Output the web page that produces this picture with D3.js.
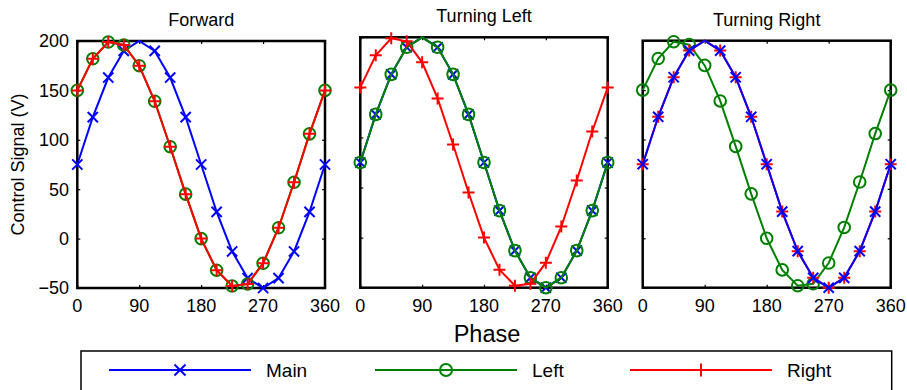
<!DOCTYPE html>
<html>
<head>
<meta charset="utf-8">
<script src="https://cdn.jsdelivr.net/npm/d3@7/dist/d3.min.js"></script>
<style>
  body { margin: 0; background: #fff; }
  text { font-family: "Liberation Sans", Arial, Helvetica, sans-serif; fill: #000; }
</style>
</head>
<body>
<div id="chart"></div>
<script>
// Data (phase in degrees, control signal in V)
var phase = [0, 22.5, 45, 67.5, 90, 112.5, 135, 157.5, 180, 202.5, 225, 247.5, 270, 292.5, 315, 337.5, 360];
var baseWave = [75, 123, 163, 190, 200, 190, 163, 123, 75, 27, -13, -40, -50, -40, -13, 27, 75];
var leadWave = [150, 182, 199, 196, 175, 139, 93, 45, 0, -32, -48, -46, -25, 11, 57, 106, 150];

var panelTitles = ['Forward', 'Turning Left', 'Turning Right'];
var seriesNames = ['Main', 'Left', 'Right'];
var xTickLabels = [0, 90, 180, 270, 360];
var yTickLabels = [-50, 0, 50, 100, 150, 200];

// which wave each series follows in each panel
var forwardSignals = [baseWave, leadWave, leadWave];
var leftSignals = [baseWave, baseWave, leadWave];
var rightSignals = [baseWave, leadWave, baseWave];
var panelSignals = [forwardSignals, leftSignals, rightSignals];

var width = 907;
var height = 390;
var colors = ['#0000ff', '#008000', '#ff0000'];
var markers = ['x', 'o', '+'];

// box of each panel, and drawing order of series
var panels = [
  { x0: 77.3, x1: 325, top: 41, bottom: 288, order: [0, 1, 2], yLabels: true },
  { x0: 360.3, x1: 607.7, top: 37.3, bottom: 287.7, order: [0, 1, 2], yLabels: false },
  { x0: 642.7, x1: 890.7, top: 40.7, bottom: 287.7, order: [1, 2, 0], yLabels: false }
];

//Create SVG
var svg = d3.select('#chart')
  .append('svg')
  .attr('width', width)
  .attr('height', height);

function drawMarker(sel, type, color, s) {
  if (type === 'o') {
    sel.append('circle')
      .attr('r', s)
      .attr('fill', 'none')
      .attr('stroke', color)
      .attr('stroke-width', 2);
  } else {
    var k = type === 'x' ? s * 0.85 : s;
    var d = type === 'x'
      ? 'M' + (-k) + ',' + (-k) + 'L' + k + ',' + k + 'M' + (-k) + ',' + k + 'L' + k + ',' + (-k)
      : 'M' + (-k) + ',0H' + k + 'M0,' + (-k) + 'V' + k;
    sel.append('path')
      .attr('d', d)
      .attr('fill', 'none')
      .attr('stroke', color)
      .attr('stroke-width', 2);
  }
}

panels.forEach(function (p, pi) {
  var x = d3.scaleLinear().domain([0, 360]).range([p.x0, p.x1]);
  var y = d3.scaleLinear().domain([-50, 200]).range([p.bottom, p.top]);
  var g = svg.append('g');

  //Axis box
  g.append('rect')
    .attr('x', p.x0)
    .attr('y', p.top)
    .attr('width', p.x1 - p.x0)
    .attr('height', p.bottom - p.top)
    .attr('fill', 'none')
    .attr('stroke', '#000')
    .attr('stroke-width', 2.5);

  //Ticks inside the box
  var tickLen = 3;
  g.append('g').call(d3.axisBottom(x).tickValues(xTickLabels).tickSize(-tickLen).tickFormat(''))
    .attr('transform', 'translate(0,' + p.bottom + ')');
  g.append('g').call(d3.axisTop(x).tickValues(xTickLabels).tickSize(-tickLen).tickFormat(''))
    .attr('transform', 'translate(0,' + p.top + ')');
  g.append('g').call(d3.axisLeft(y).tickValues(yTickLabels).tickSize(-tickLen).tickFormat(''))
    .attr('transform', 'translate(' + p.x0 + ',0)');
  g.append('g').call(d3.axisRight(y).tickValues(yTickLabels).tickSize(-tickLen).tickFormat(''))
    .attr('transform', 'translate(' + p.x1 + ',0)');
  g.selectAll('.domain').remove();
  g.selectAll('.tick line').attr('stroke', '#000').attr('stroke-width', 1.2);

  //Tick labels
  g.selectAll('.xlab')
    .data(xTickLabels)
    .enter()
    .append('text')
    .attr('x', function (d) { return x(d); })
    .attr('y', 312)
    .attr('text-anchor', 'middle')
    .style('font-size', '18px')
    .text(function (d) { return d; });

  if (p.yLabels) {
    g.selectAll('.ylab')
      .data(yTickLabels)
      .enter()
      .append('text')
      .attr('x', 69)
      .attr('y', function (d) { return y(d) + 6.4; })
      .attr('text-anchor', 'end')
      .style('font-size', '18px')
      .text(function (d) { return d < 0 ? '\u2212' + Math.abs(d) : d; });
  }

  //Title
  g.append('text')
    .attr('x', (p.x0 + p.x1) / 2)
    .attr('y', p.top - 15)
    .attr('text-anchor', 'middle')
    .style('font-size', '18px')
    .text(panelTitles[pi]);

  //Lines and markers
  var line = d3.line()
    .x(function (d, i) { return x(phase[i]); })
    .y(function (d) { return y(d); });

  p.order.forEach(function (si) {
    var values = panelSignals[pi][si];
    g.append('path')
      .attr('d', line(values))
      .attr('fill', 'none')
      .attr('stroke', colors[si])
      .attr('stroke-width', 2);

    // markers sitting on the upper limit are clipped away
    var pts = values.map(function (v, i) { return { a: phase[i], v: v }; })
      .filter(function (d) { return d.v < 200; });

    g.selectAll('.m' + si)
      .data(pts)
      .enter()
      .append('g')
      .attr('transform', function (d) { return 'translate(' + x(d.a) + ',' + y(d.v) + ')'; })
      .each(function () {
        drawMarker(d3.select(this), markers[si], colors[si], markers[si] === 'o' ? 5.8 : 6);
      });
  });
});

//Axis titles
svg.append('text')
  .attr('transform', 'translate(24,164.5) rotate(-90)')
  .attr('text-anchor', 'middle')
  .style('font-size', '18px')
  .text('Control Signal (V)');

svg.append('text')
  .attr('x', 487)
  .attr('y', 342)
  .attr('text-anchor', 'middle')
  .style('font-size', '23.5px')
  .text('Phase');

//Legend
var legend = svg.append('g');
legend.append('rect')
  .attr('x', 81)
  .attr('y', 351)
  .attr('width', 891.7 - 81)
  .attr('height', 60)
  .attr('fill', '#fff')
  .attr('stroke', '#000')
  .attr('stroke-width', 1.5);

var legendStarts = [109, 375, 630];
var legends = legend.selectAll('.legends')
  .data(seriesNames)
  .enter()
  .append('g')
  .attr('transform', function (d, i) { return 'translate(' + legendStarts[i] + ',370)'; });

legends.append('line')
  .attr('x1', 0)
  .attr('x2', 142)
  .attr('stroke', function (d, i) { return colors[i]; })
  .attr('stroke-width', 2);

legends.append('g')
  .attr('transform', 'translate(71,0)')
  .each(function (d, i) {
    drawMarker(d3.select(this), markers[i], colors[i], markers[i] === 'o' ? 6 : 6.5);
  });

legends.append('text')
  .attr('x', 157)
  .attr('y', 7)
  .style('font-size', '19px')
  .text(function (d) { return d; });
</script>
</body>
</html>
